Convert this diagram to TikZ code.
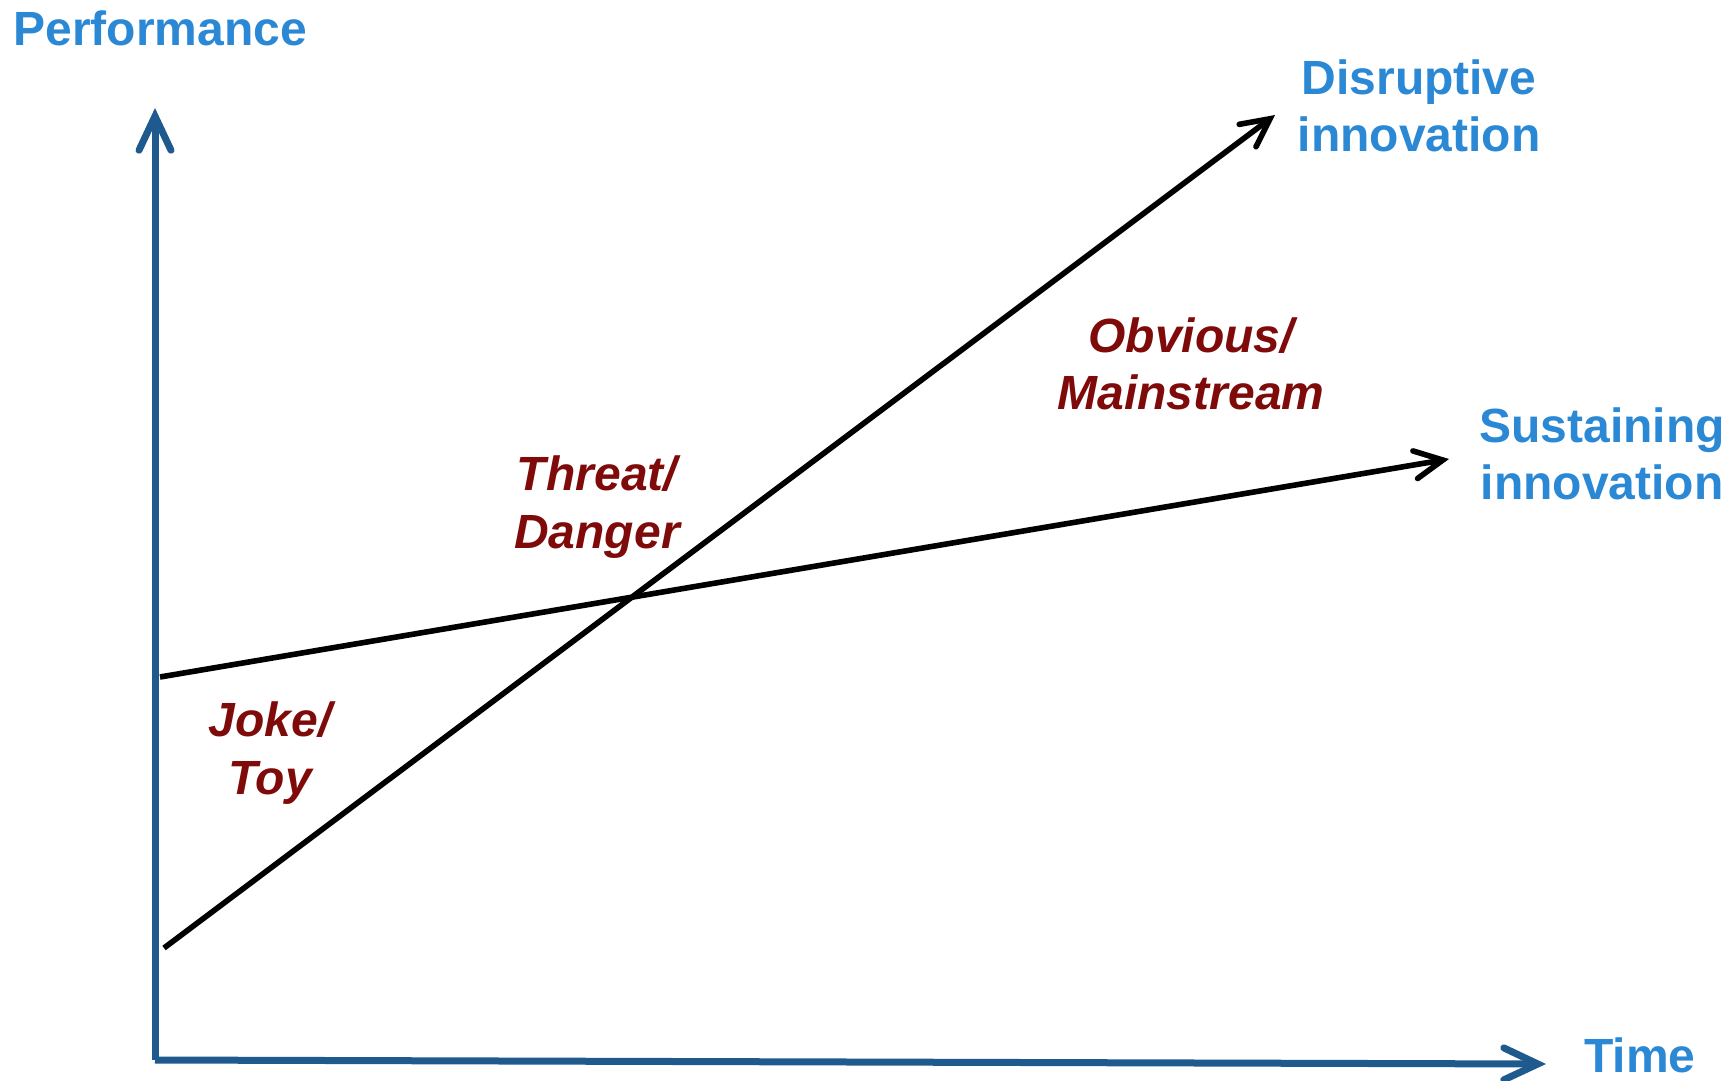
\documentclass[tikz,border=0pt]{standalone}
\usepackage{fontspec}
\setmainfont{Liberation Sans}
\usetikzlibrary{arrows.meta}
\definecolor{axisblue}{HTML}{1F5A8E}
\definecolor{textblue}{HTML}{2A88D4}
\definecolor{darkred}{HTML}{7F0A0A}
\begin{document}
\begin{tikzpicture}[x=0.5pt,y=-0.5pt,
axis/.style={draw=axisblue,line width=3.5pt,-{Straight Barb[length=17pt,width=16pt,line cap=round]}},
curve/.style={draw=black,line width=2.8pt,-{Straight Barb[length=14pt,width=14pt,line cap=round]}},
bluelabel/.style={inner sep=0pt,align=center,text=textblue,font=\fontsize{24}{28.7}\selectfont\bfseries},
redlabel/.style={inner sep=0pt,align=center,text=darkred,font=\fontsize{24}{28.7}\selectfont\bfseries\itshape}]
\useasboundingbox (0,0) rectangle (1729,1081);
% axes
\coordinate (origin) at (155,1060);
\coordinate (ytop) at (155,108);
\coordinate (xend) at (1546,1064);
\draw[axis] (origin) -- (ytop);
\draw[axis] (origin) -- (xend);
\node[bluelabel,anchor=west] (perf) at (13,28) {Performance};
\node[bluelabel] (time) at (1640,1055) {Time};
% the two curves
\coordinate (dstart) at (164,948);
\coordinate (dend) at (1275,115);
\coordinate (sstart) at (160,677);
\coordinate (send) at (1449,459);
\draw[curve] (dstart) -- (dend);
\draw[curve] (sstart) -- (send);
\node[bluelabel] (disr) at (1419,106) {Disruptive\\innovation};
\node[bluelabel] (sust) at (1602,454) {Sustaining\\innovation};
% phases
\node[redlabel] (joke) at (270,753) {Joke/\\Toy};
\node[redlabel] (threat) at (597,507) {Threat/\\Danger};
\node[redlabel] (obvious) at (1191,364) {Obvious/\\Mainstream};
\end{tikzpicture}
\end{document}
